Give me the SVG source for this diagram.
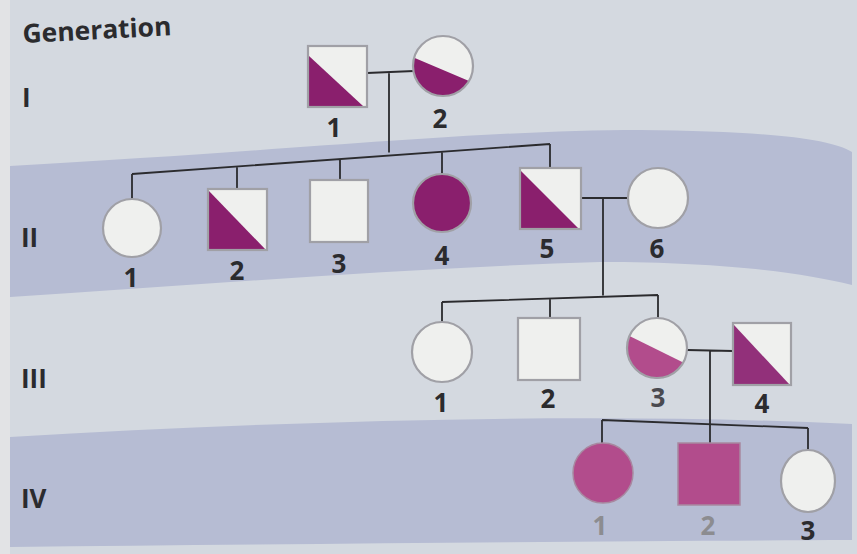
<svg xmlns="http://www.w3.org/2000/svg" width="857" height="554" viewBox="0 0 857 554">
  <defs>
    <style>
      .page { fill: #d4d9e0; }
      .band { fill: #b6bcd3; }
      .sym { stroke: #a0a0a6; stroke-width: 2.2; }
      .blank { fill: #eff0ee; }
      .dark { fill: #8a1f6d; }
      .mid { fill: #92307a; }
      .pink { fill: #b24c8c; }
      .conn { fill: none; stroke: #2b2b2e; stroke-width: 1.8; }
      .lbl { font-family: "Open Sans", "Liberation Sans", sans-serif; font-weight: 700; font-size: 26px; fill: #2b2b2e; text-anchor: middle; }
      .gen { font-family: "Open Sans", "Liberation Sans", sans-serif; font-weight: 700; font-size: 26px; fill: #2b2b2e; }
    </style>
  </defs>

  <!-- page background with generation bands -->
  <rect class="page" x="0" y="0" width="857" height="554"/>
  <rect x="0" y="0" width="10" height="554" fill="#e2e3e5"/>
  <path class="band" d="M10,166 C300,150 480,130 640,130 C760,131 830,138 852,152 L852,285 C800,272 720,262 600,262 C400,268 200,285 10,297 Z"/>
  <path class="band" d="M10,437 C300,420 600,412 852,424 L852,540 C600,541 300,544 10,547 Z"/>

  <!-- titles -->
  <text class="gen" x="23" y="43" transform="rotate(-3 23 43)" textLength="149" lengthAdjust="spacingAndGlyphs">Generation</text>
  <text class="gen" x="22" y="107">I</text>
  <text class="gen" x="21" y="247">II</text>
  <text class="gen" x="21" y="388">III</text>
  <text class="gen" x="21" y="508">IV</text>

  <!-- connectors -->
  <g id="connectors">
    <path class="conn" d="M367,73 L414,71 M389,72 L389,152.5"/>
    <path class="conn" d="M132,174 L550,144 M132,174 L132,199 M237,166.5 L237,189 M340,159.2 L340,180 M442,151.9 L442,174 M550,144 L550,168"/>
    <path class="conn" d="M582,198 L628,198 M603,198 L603,295.5"/>
    <path class="conn" d="M442,302 L658,295 M442,302 L442,322 M550,298.5 L550,318 M658,295 L658,318"/>
    <path class="conn" d="M687,350 L733,351 M710,350 L710,443"/>
    <path class="conn" d="M602,420 L808,428 M602,420 L602,443 M808,428 L808,450"/>
  </g>

  <!-- generation I -->
  <g id="I-1">
    <rect class="blank" x="308" y="46" width="59" height="61"/>
    <path class="dark" d="M309,56 L309,106 L363,106 Z"/>
    <rect class="sym" fill="none" x="308" y="46" width="59" height="61"/>
    <text class="lbl" x="334" y="137">1</text>
  </g>
  <g id="I-2">
    <circle class="blank" cx="443" cy="66" r="30"/>
    <path class="dark" d="M414.2,57.7 L469,81 A30,30 0 0,1 414.2,57.7 Z"/>
    <circle class="sym" fill="none" cx="443" cy="66" r="30"/>
    <text class="lbl" x="440" y="128">2</text>
  </g>

  <!-- generation II -->
  <g id="II-1">
    <circle class="blank sym" cx="132" cy="228" r="29"/>
    <text class="lbl" x="131" y="287">1</text>
  </g>
  <g id="II-2">
    <rect class="blank" x="208" y="189" width="59" height="61"/>
    <path class="dark" d="M208,190 L208,250 L266,250 Z"/>
    <rect class="sym" fill="none" x="208" y="189" width="59" height="61"/>
    <text class="lbl" x="237" y="280">2</text>
  </g>
  <g id="II-3">
    <rect class="blank sym" x="310" y="180" width="58" height="62"/>
    <text class="lbl" x="339" y="273">3</text>
  </g>
  <g id="II-4">
    <circle class="dark sym" cx="442" cy="203" r="29"/>
    <text class="lbl" x="442" y="265">4</text>
  </g>
  <g id="II-5">
    <rect class="blank" x="520" y="168" width="61" height="61"/>
    <path class="dark" d="M520,170 L520,229 L579,229 Z"/>
    <rect class="sym" fill="none" x="520" y="168" width="61" height="61"/>
    <text class="lbl" x="547" y="258">5</text>
  </g>
  <g id="II-6">
    <circle class="blank sym" cx="658" cy="198" r="30"/>
    <text class="lbl" x="657" y="258">6</text>
  </g>

  <!-- generation III -->
  <g id="III-1">
    <circle class="blank sym" cx="442" cy="352" r="30"/>
    <text class="lbl" x="441" y="412">1</text>
  </g>
  <g id="III-2">
    <rect class="blank sym" x="518" y="318" width="62" height="62"/>
    <text class="lbl" x="548" y="408">2</text>
  </g>
  <g id="III-3">
    <circle class="blank" cx="657" cy="348" r="30"/>
    <path class="pink" d="M629.5,335.9 L683.2,362.6 A30,30 0 0,1 629.5,335.9 Z"/>
    <circle class="sym" fill="none" cx="657" cy="348" r="30"/>
    <text class="lbl" x="658" y="407" fill="#4a4a50" style="fill:#4a4a50">3</text>
  </g>
  <g id="III-4">
    <rect class="blank" x="733" y="323" width="58" height="62"/>
    <path class="mid" d="M734,325 L734,385 L790,385 Z"/>
    <rect class="sym" fill="none" x="733" y="323" width="58" height="62"/>
    <text class="lbl" x="762" y="413">4</text>
  </g>

  <!-- generation IV -->
  <g id="IV-1">
    <circle class="pink" cx="603" cy="473" r="30" stroke="#a888a0" stroke-width="1.5"/>
    <text class="lbl" x="600" y="535" style="fill:#8c8c90">1</text>
  </g>
  <g id="IV-2">
    <rect class="pink" x="678" y="443" width="62" height="62" stroke="#a888a0" stroke-width="1.5"/>
    <text class="lbl" x="708" y="535" style="fill:#8c8c90">2</text>
  </g>
  <g id="IV-3">
    <ellipse class="blank sym" cx="808" cy="481" rx="27" ry="31"/>
    <text class="lbl" x="808" y="540">3</text>
  </g>
</svg>
